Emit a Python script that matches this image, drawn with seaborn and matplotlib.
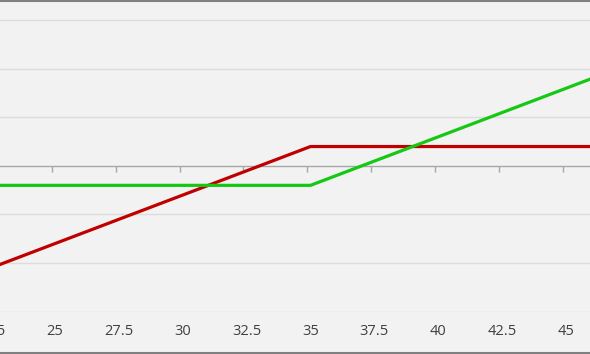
import matplotlib
matplotlib.use("Agg")
import matplotlib.pyplot as plt
import seaborn as sns
import pandas as pd
from matplotlib.lines import Line2D

# Data (kink points of the two payoff lines)
price = [22.5, 35.0, 46.0]
red_values = [-10.5, 2.0, 2.0]
green_values = [-2.0, -2.0, 9.0]
tick_values = [22.5, 25, 27.5, 30, 32.5, 35, 37.5, 40, 42.5, 45]
tick_labels = ["22.5", "25", "27.5", "30", "32.5", "35", "37.5", "40", "42.5", "45"]
grid_values = [-15, -10, -5, 5, 10, 15]

df = pd.DataFrame({
    "price": price * 2,
    "value": red_values + green_values,
    "series": ["red"] * len(price) + ["green"] * len(price),
})

sns.set_theme(style="white")
plt.rcParams["font.family"] = ["Open Sans", "DejaVu Sans"]

fig = plt.figure(figsize=(5.9, 3.54), dpi=100)
fig.patch.set_facecolor("#f2f2f2")
ax = fig.add_axes([0, (354 - 311.5) / 354, 1, 311.5 / 354])
ax.set_facecolor("#f2f2f2")

for g in grid_values:
    ax.axhline(g, color="#dcdcdc", lw=1.0, zorder=0)

sns.lineplot(data=df, x="price", y="value", hue="series",
             palette={"red": "#c00000", "green": "#14c814"},
             lw=2.3, legend=False, ax=ax, zorder=3)

for s in ax.spines.values():
    s.set_visible(False)
ax.set_xlabel("")
ax.set_ylabel("")
ax.set_yticks([])
ax.set_xticks(tick_values[1:])
ax.set_xticklabels(tick_labels[1:])
ax.tick_params(axis="x", length=0, pad=9, labelsize=10.5, labelcolor="#404040")

# first label lies partly outside the view, as in the reference
ax.annotate(tick_labels[0], xy=(tick_values[0], 0), xycoords=("data", "axes fraction"),
            xytext=(0, -9), textcoords="offset points", ha="center", va="top",
            fontsize=10.5, color="#404040", annotation_clip=False)

# zero axis line with tick marks (between categories)
sec = ax.secondary_xaxis(0, transform=ax.transData)
sec.set_xticks([t - 0.125 for t in tick_values[1:]])
sec.set_xticklabels([])
sec.tick_params(axis="x", direction="out", length=4, width=1, color="#a6a6a6")
sec.spines["bottom"].set_color("#a6a6a6")
sec.spines["bottom"].set_linewidth(1.0)
for k in ["top", "left", "right"]:
    sec.spines[k].set_visible(False)

ax.set_xlim(22.847, 45.94)
ax.set_ylim(-15, 17.1)

# chart outer border (top and bottom)
fig.add_artist(Line2D([0, 1], [1 - 1 / 354, 1 - 1 / 354], transform=fig.transFigure,
                      color="#808080", lw=1.5))
fig.add_artist(Line2D([0, 1], [1.5 / 354, 1.5 / 354], transform=fig.transFigure,
                      color="#808080", lw=1.5))

fig.savefig("out.png", dpi=100, facecolor=fig.get_facecolor())
